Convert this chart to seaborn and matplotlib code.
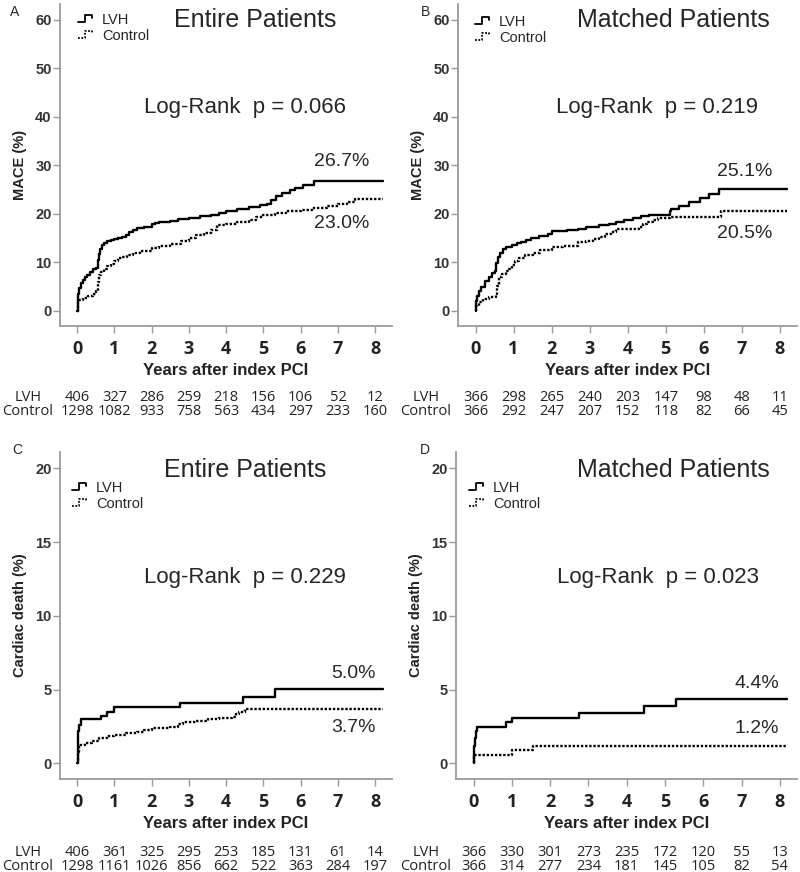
import numpy as np
import pandas as pd
import matplotlib
matplotlib.use("Agg")
import matplotlib.pyplot as plt
import matplotlib.transforms as mtransforms
from matplotlib.lines import Line2D
from matplotlib.legend_handler import HandlerBase
import seaborn as sns

# ---- data (cumulative incidence, %) ----
A_LVH_T = [0, 0.01, 0.03, 0.06, 0.1, 0.15, 0.2, 0.27, 0.35, 0.42,
           0.5, 0.55, 0.58, 0.62, 0.66, 0.72, 0.8, 0.9, 1.0, 1.1,
           1.2, 1.3, 1.4, 1.5, 1.6, 1.8, 2.0, 2.1, 2.2, 2.5,
           2.7, 3.0, 3.3, 3.6, 3.8, 4.0, 4.3, 4.6, 4.9, 5.1,
           5.2, 5.35, 5.5, 5.7, 5.85, 6.05, 6.35, 8.2]
A_LVH_Y = [0, 2.0, 3.5, 4.8, 5.7, 6.3, 6.9, 7.4, 8.0, 8.6,
           8.9, 10.5, 11.8, 12.8, 13.5, 14.0, 14.4, 14.6, 14.8, 15.0,
           15.3, 15.7, 16.2, 16.6, 17.1, 17.3, 17.8, 18.1, 18.3, 18.6,
           18.9, 19.2, 19.5, 19.8, 20.2, 20.6, 21.0, 21.5, 21.9, 22.0,
           22.8, 23.6, 24.2, 24.8, 25.4, 26.0, 26.7, 26.7]
A_CTL_T = [0, 0.02, 0.06, 0.15, 0.3, 0.42, 0.5, 0.55, 0.6, 0.65,
           0.72, 0.8, 0.9, 1.0, 1.1, 1.2, 1.35, 1.5, 1.7, 2.0,
           2.2, 2.5, 2.8, 3.0, 3.2, 3.4, 3.6, 3.75, 4.0, 4.3,
           4.6, 4.8, 5.0, 5.3, 5.6, 6.0, 6.3, 6.7, 7.0, 7.25,
           7.45, 8.2]
A_CTL_Y = [0, 1.8, 2.3, 2.7, 3.0, 3.4, 4.2, 6.0, 7.3, 8.0,
           8.6, 9.2, 9.7, 10.3, 10.8, 11.2, 11.6, 11.9, 12.3, 12.9,
           13.3, 13.8, 14.3, 15.0, 15.6, 16.0, 16.6, 17.6, 18.0, 18.3,
           18.7, 19.3, 19.8, 20.2, 20.6, 20.8, 21.1, 21.6, 22.0, 22.5,
           23.0, 23.0]

B_LVH_T = [0, 0.01, 0.04, 0.09, 0.15, 0.26, 0.35, 0.44, 0.5, 0.55,
           0.6, 0.65, 0.72, 0.8, 0.97, 1.1, 1.2, 1.32, 1.45, 1.67,
           1.9, 2.0, 2.4, 2.7, 2.9, 3.25, 3.5, 3.7, 3.9, 4.13,
           4.35, 4.57, 5.1, 5.15, 5.36, 5.6, 5.9, 6.15, 6.4, 8.2]
B_LVH_Y = [0, 2.0, 3.0, 4.1, 5.0, 6.2, 7.0, 7.8, 8.3, 9.8,
           11.2, 12.0, 12.8, 13.2, 13.6, 13.9, 14.2, 14.6, 15.0, 15.5,
           15.8, 16.4, 16.6, 16.9, 17.2, 17.6, 17.9, 18.3, 18.8, 19.2,
           19.5, 19.8, 20.6, 21.0, 21.7, 22.4, 23.3, 24.1, 25.1, 25.1]
B_CTL_T = [0, 0.02, 0.08, 0.2, 0.35, 0.53, 0.57, 0.62, 0.7, 0.8,
           0.88, 0.95, 1.05, 1.14, 1.3, 1.5, 1.7, 2.0, 2.3, 2.7,
           2.9, 3.1, 3.25, 3.4, 3.55, 3.7, 4.3, 4.4, 4.5, 4.66,
           4.8, 5.1, 6.45, 8.2]
B_CTL_Y = [0, 1.0, 1.8, 2.5, 2.9, 3.4, 5.2, 6.9, 7.6, 8.2,
           8.6, 9.5, 10.3, 11.0, 11.6, 12.0, 12.6, 13.1, 13.4, 14.1,
           14.4, 14.8, 15.3, 15.9, 16.3, 16.8, 17.3, 17.8, 18.3, 18.8,
           19.1, 19.4, 20.5, 20.5]

C_LVH_T = [0, 0.01, 0.02, 0.03, 0.05, 0.1, 0.65, 0.8, 1.0, 2.75, 4.45, 5.3, 8.2]
C_LVH_Y = [0, 0.8, 1.6, 2.2, 2.6, 3.0, 3.25, 3.5, 3.8, 4.1, 4.5, 5.05, 5.05]
C_CTL_T = [0, 0.02, 0.05, 0.2, 0.4, 0.6, 0.8, 1.0, 1.3, 1.6,
           1.8, 2.0, 2.5, 2.7, 2.85, 3.2, 3.5, 3.8, 4.15, 4.25,
           4.35, 4.5, 8.2]
C_CTL_Y = [0, 0.8, 1.25, 1.4, 1.55, 1.7, 1.85, 1.95, 2.05, 2.15,
           2.3, 2.4, 2.5, 2.7, 2.8, 2.9, 3.0, 3.1, 3.15, 3.35,
           3.5, 3.7, 3.7]

D_LVH_T = [0, 0.01, 0.02, 0.03, 0.05, 0.08, 0.85, 1.0, 2.75, 4.45, 5.28, 8.2]
D_LVH_Y = [0, 0.5, 1.2, 1.7, 2.2, 2.5, 2.8, 3.1, 3.4, 3.9, 4.4, 4.4]
D_CTL_T = [0, 0.02, 1.0, 1.55, 8.2]
D_CTL_Y = [0, 0.6, 0.9, 1.2, 1.2]

YEARS = list(range(9))
A_RISK_LVH = [406, 327, 286, 259, 218, 156, 106, 52, 12]
A_RISK_CTL = [1298, 1082, 933, 758, 563, 434, 297, 233, 160]
B_RISK_LVH = [366, 298, 265, 240, 203, 147, 98, 48, 11]
B_RISK_CTL = [366, 292, 247, 207, 152, 118, 82, 66, 45]
C_RISK_LVH = [406, 361, 325, 295, 253, 185, 131, 61, 14]
C_RISK_CTL = [1298, 1161, 1026, 856, 662, 522, 363, 284, 197]
D_RISK_LVH = [366, 330, 301, 273, 235, 172, 120, 55, 13]
D_RISK_CTL = [366, 314, 277, 234, 181, 145, 105, 82, 54]

TITLES = ['Entire Patients', 'Matched Patients', 'Entire Patients', 'Matched Patients']
PVALUES = ['0.066', '0.219', '0.229', '0.023']
FINAL_LVH = ['26.7%', '25.1%', '5.0%', '4.4%']
FINAL_CTL = ['23.0%', '20.5%', '3.7%', '1.2%']
YLABELS = ['MACE (%)', 'MACE (%)', 'Cardiac death (%)', 'Cardiac death (%)']
LETTERS = ['A', 'B', 'C', 'D']

sns.set_theme(style="ticks")
plt.rcParams['font.family'] = ['Liberation Sans', 'DejaVu Sans']

W, H = 800, 872
SPINE = '#9a9a9a'
RISK_FONT = ['Open Sans', 'DejaVu Sans']
RISK_SIZE = 10.5


class StepHandler(HandlerBase):
    # little step glyph like the SPSS legend
    def create_artists(self, legend, orig_handle, xdescent, ydescent,
                       width, height, fontsize, trans):
        x0 = -xdescent
        y0 = -ydescent
        xs = np.array([0, 0.45, 0.45, 0.9, 0.9]) * width + x0
        ys = np.array([0.2, 0.2, 0.85, 0.85, 0.55]) * height + y0
        line = Line2D(xs, ys, color='black', lw=1.3,
                      linestyle=orig_handle.get_linestyle())
        if orig_handle.get_linestyle() != '-':
            line.set_dashes((1.0, 0.9))
        line.set_transform(trans)
        return [line]


def px_rect(left, right, top, bottom):
    return [left / W, 1 - bottom / H, (right - left) / W, (bottom - top) / H]


def draw_panel(fig, rect, curves, risk, idx, ylim, yticks, layout):
    ax = fig.add_axes(px_rect(*rect))
    lvh_t, lvh_y, ctl_t, ctl_y = curves
    df = pd.concat([
        pd.DataFrame({'t': lvh_t, 'y': lvh_y, 'group': 'LVH'}),
        pd.DataFrame({'t': ctl_t, 'y': ctl_y, 'group': 'Control'}),
    ])
    sns.lineplot(data=df, x='t', y='y', hue='group', style='group',
                 palette={'LVH': 'black', 'Control': 'black'},
                 dashes={'LVH': '', 'Control': (1.0, 0.75)},
                 drawstyle='steps-post', estimator=None, sort=False,
                 legend=False, linewidth=1.7, ax=ax)

    ax.set_xlim(-0.46, 8.45)
    ax.set_ylim(*ylim)
    ax.set_xticks(YEARS)
    ax.set_yticks(yticks)
    sns.despine(ax=ax)
    for s in ['left', 'bottom']:
        ax.spines[s].set_color(SPINE)
        ax.spines[s].set_linewidth(1.3)
    ax.tick_params(axis='y', length=5, width=1, color=SPINE, labelsize=10.5,
                   labelcolor='#333333', pad=1)
    ax.tick_params(axis='x', length=5, width=1, color=SPINE, labelsize=13,
                   labelcolor='#222222', pad=5)
    for lab in ax.get_yticklabels():
        lab.set_fontweight('bold')
    for lab in ax.get_xticklabels():
        lab.set_family(['Open Sans', 'DejaVu Sans'])
        lab.set_fontweight('bold')

    ax.set_xlabel('Years after index PCI', fontsize=12, fontweight='bold',
                  color='#222222', labelpad=4)
    ax.set_ylabel(YLABELS[idx], fontsize=10.5, fontweight='bold',
                  color='#222222', labelpad=6)

    lay = layout
    fig.text(lay['letter'][0] / W, 1 - lay['letter'][1] / H, LETTERS[idx],
             fontsize=10, ha='center', va='center')
    fig.text(lay['title'][0] / W, 1 - lay['title'][1] / H, TITLES[idx],
             fontsize=18, ha='center', va='center')
    fig.text(lay['logrank'][0] / W, 1 - lay['logrank'][1] / H,
             'Log-Rank  p = ' + PVALUES[idx], fontsize=16, ha='center', va='center')
    fig.text(lay['final'][0] / W, 1 - lay['final'][1] / H, FINAL_LVH[idx],
             fontsize=14, ha='center', va='center')
    fig.text(lay['final'][0] / W, 1 - lay['final'][2] / H, FINAL_CTL[idx],
             fontsize=14, ha='center', va='center')

    handles = [Line2D([], [], color='black', ls='-'),
               Line2D([], [], color='black', ls=':')]
    ax.legend(handles, ['LVH', 'Control'], loc='upper left',
              bbox_to_anchor=(lay['legend'][0] / W, 1 - lay['legend'][1] / H),
              bbox_transform=fig.transFigure, frameon=False, fontsize=10.5,
              handlelength=1.1, handletextpad=0.55, labelspacing=0.12,
              borderpad=0, borderaxespad=0,
              handler_map={Line2D: StepHandler()})

    # numbers at risk
    tr = mtransforms.blended_transform_factory(ax.transData, fig.transFigure)
    lvh_n, ctl_n = risk
    ry1, ry2 = lay['risk_y']
    for yr, n1, n2 in zip(YEARS, lvh_n, ctl_n):
        ax.text(yr, 1 - ry1 / H, str(n1), transform=tr, ha='center', va='center',
                fontsize=RISK_SIZE, family=RISK_FONT, color='#222222')
        ax.text(yr, 1 - ry2 / H, str(n2), transform=tr, ha='center', va='center',
                fontsize=RISK_SIZE, family=RISK_FONT, color='#222222')
    rx = lay['risk_x'] / W
    fig.text(rx, 1 - ry1 / H, 'LVH', ha='center', va='center', fontsize=RISK_SIZE,
             family=RISK_FONT, color='#222222')
    fig.text(rx, 1 - ry2 / H, 'Control', ha='center', va='center', fontsize=RISK_SIZE,
             family=RISK_FONT, color='#222222')
    return ax


fig = plt.figure(figsize=(W / 100, H / 100), dpi=100)

panels = [
    dict(rect=(60, 392, 4, 326), curves=(A_LVH_T, A_LVH_Y, A_CTL_T, A_CTL_Y),
         risk=(A_RISK_LVH, A_RISK_CTL), ylim=(-3.1, 63.2), yticks=[0, 10, 20, 30, 40, 50, 60],
         layout=dict(letter=(15, 12), title=(255, 20), logrank=(245, 108),
                     final=(342, 162, 223), legend=(78, 13), risk_x=28, risk_y=(397, 411))),
    dict(rect=(458, 797, 4, 326), curves=(B_LVH_T, B_LVH_Y, B_CTL_T, B_CTL_Y),
         risk=(B_RISK_LVH, B_RISK_CTL), ylim=(-3.1, 63.2), yticks=[0, 10, 20, 30, 40, 50, 60],
         layout=dict(letter=(425, 12), title=(673, 20), logrank=(657, 108),
                     final=(745, 172, 233), legend=(475, 15), risk_x=426, risk_y=(397, 411))),
    dict(rect=(60, 392, 452, 779), curves=(C_LVH_T, C_LVH_Y, C_CTL_T, C_CTL_Y),
         risk=(C_RISK_LVH, C_RISK_CTL), ylim=(-1.05, 21.1), yticks=[0, 5, 10, 15, 20],
         layout=dict(letter=(17, 450), title=(245, 470), logrank=(245, 577),
                     final=(353, 673, 727), legend=(72, 481), risk_x=28, risk_y=(852, 866))),
    dict(rect=(456, 797, 452, 779), curves=(D_LVH_T, D_LVH_Y, D_CTL_T, D_CTL_Y),
         risk=(D_RISK_LVH, D_RISK_CTL), ylim=(-1.05, 21.1), yticks=[0, 5, 10, 15, 20],
         layout=dict(letter=(425, 450), title=(673, 470), logrank=(658, 577),
                     final=(757, 683, 728), legend=(469, 481), risk_x=426, risk_y=(852, 866))),
]

for i, p in enumerate(panels):
    draw_panel(fig, p['rect'], p['curves'], p['risk'], i, p['ylim'], p['yticks'], p['layout'])

fig.savefig('out.png', dpi=100)
